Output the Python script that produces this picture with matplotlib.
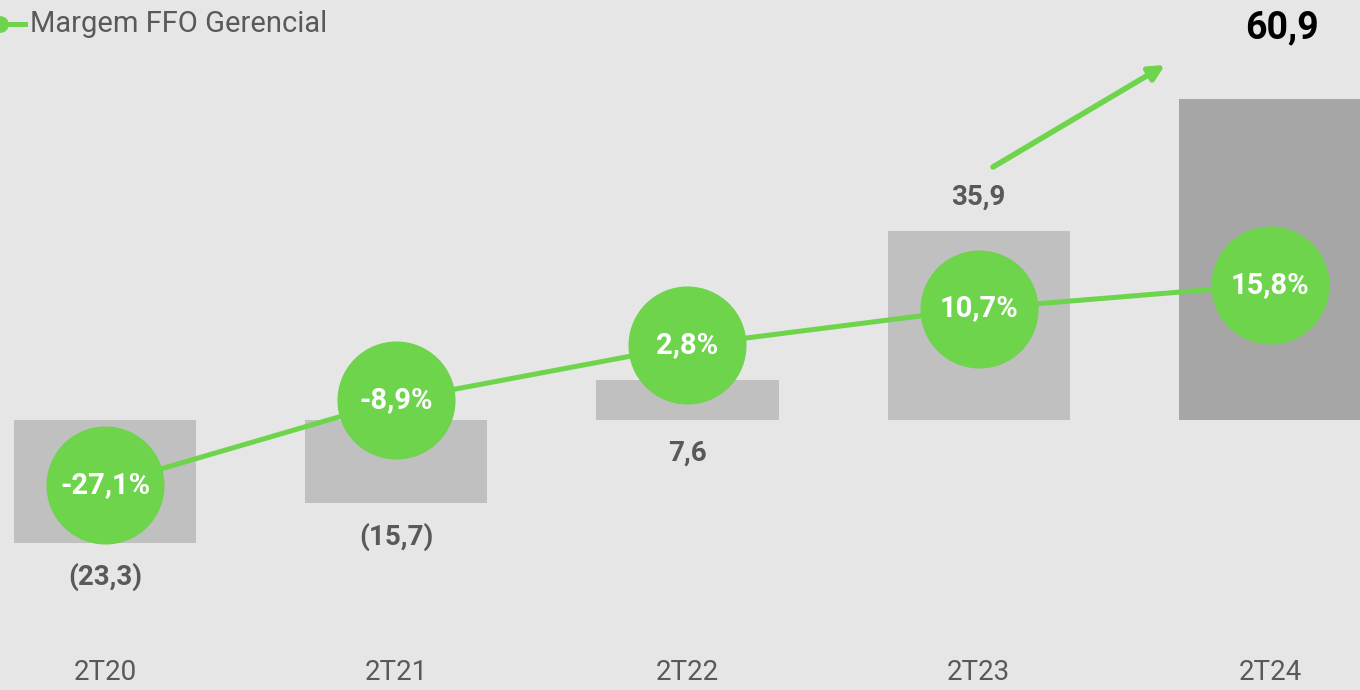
import numpy as np
import matplotlib.pyplot as plt
from matplotlib.lines import Line2D

# data
periods = ["2T20", "2T21", "2T22", "2T23", "2T24"]
ffo = [-23.3, -15.7, 7.6, 35.9, 60.9]
ffo_labels = ["(23,3)", "(15,7)", "7,6", "35,9", "60,9"]
margin = [-27.1, -8.9, 2.8, 10.7, 15.8]
margin_labels = ["-27,1%", "-8,9%", "2,8%", "10,7%", "15,8%"]

bg = "#e6e6e6"
green = "#6dd44b"
txt = "#595959"
bar_colors = ["#c0c0c0"] * 4 + ["#a6a6a6"]

plt.rcParams['font.family'] = ['Roboto', 'DejaVu Sans']

fig = plt.figure(figsize=(13.6, 6.9), dpi=100, facecolor=bg)
ax = fig.add_axes([0, 0, 1, 1])
ax.set_facecolor(bg)

x = np.arange(len(periods))
ax.bar(x, ffo, width=0.625, color=bar_colors, zorder=1)
ax.set_xlim(-0.3605, 4.309)
ax.set_ylim(-51.3, 79.8)
ax.axis("off")

# bar value labels
for i, (v, lab) in enumerate(zip(ffo, ffo_labels)):
    if i == len(ffo) - 1:
        ax.text(i + 0.04, 1 - 28 / 690, lab, transform=ax.get_xaxis_transform(),
                ha="center", va="center", fontsize=27, fontweight="bold", color="black")
    elif v < 0:
        ax.annotate(lab, (i, v), xytext=(0, -34 * 0.72), textcoords="offset points",
                    ha="center", va="center", fontsize=20, fontweight="bold", color=txt)
    elif v < 20:
        ax.annotate(lab, (i, 0), xytext=(0, -33 * 0.72), textcoords="offset points",
                    ha="center", va="center", fontsize=20, fontweight="bold", color=txt)
    else:
        ax.annotate(lab, (i, v), xytext=(0, 34 * 0.72), textcoords="offset points",
                    ha="center", va="center", fontsize=20, fontweight="bold", color=txt)

# x labels
for i, p in enumerate(periods):
    ax.text(i, 1 - 672 / 690, p, transform=ax.get_xaxis_transform(),
            ha="center", va="center", fontsize=20, color=txt)

# margin line on second axis
ax2 = fig.add_axes([0, 0, 1, 1], sharex=ax)
ax2.patch.set_visible(False)
ax2.set_ylim(-70.9, 76.7)
ax2.axis("off")
ax2.plot(x, margin, color=green, lw=3.6, marker="o", markersize=84,
         markerfacecolor=green, markeredgecolor=green, zorder=3)
for i, (m, lab) in enumerate(zip(margin, margin_labels)):
    ax2.text(i, m, lab, ha="center", va="center", fontsize=21,
             fontweight="bold", color="white", zorder=4)

# growth arrow
ax2.annotate("", xy=(1165 / 1360, 1 - 65 / 690), xytext=(993 / 1360, 1 - 167 / 690),
             xycoords="figure fraction", textcoords="figure fraction",
             arrowprops=dict(arrowstyle="-|>,head_length=0.9,head_width=0.45",
                             color=green, lw=4, shrinkA=0, shrinkB=0, fill=False))

# legend
fig.add_artist(Line2D([0, 25 / 1360], [1 - 24 / 690] * 2, transform=fig.transFigure,
                      color=green, lw=3.6))
fig.add_artist(Line2D([0], [1 - 24 / 690], transform=fig.transFigure, marker="o",
                      markersize=11, color=green, clip_on=False))
fig.text(30 / 1360, 1 - 24 / 690, "Margem FFO Gerencial", ha="left", va="center",
         fontsize=21, color=txt)

fig.savefig("out.png", dpi=100, facecolor=bg)
